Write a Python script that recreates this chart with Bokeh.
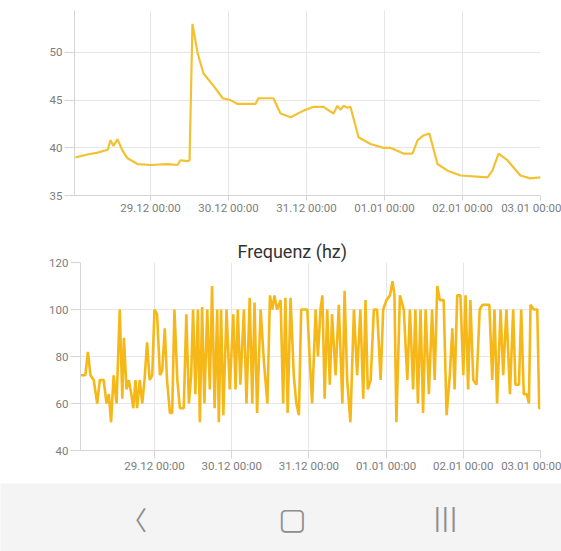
import pandas as pd
from bokeh.plotting import figure
from bokeh.models import FixedTicker, DatetimeTickFormatter, Range1d, ColumnDataSource
from bokeh.embed import file_html
from bokeh.resources import INLINE
from bokeh.core.properties import value

# ---------------- data ----------------
BASE = "2020-12-29 00:00"   # hours below are counted from this moment

temp_hours = [-23.1, -19.4, -16.3, -13.2, -12.3, -11.4, -10.2, -8.6, -7.1, -4.0,
              0.0, 5.2, 8.3, 9.2, 11.4, 12.0, 12.9, 14.5, 16.3, 19.4,
              20.9, 22.2, 24.6, 26.8, 32.3, 33.2, 37.8, 40.0, 43.1, 47.1,
              50.2, 53.2, 56.3, 57.5, 58.5, 59.4, 60.6, 61.5, 64.0, 67.7,
              71.7, 73.8, 77.8, 80.6, 82.2, 84.0, 85.8, 88.3, 91.4, 95.4,
              103.7, 105.2, 107.1, 109.8, 113.8, 116.9, 120.0]
temp_values = [39.0, 39.3, 39.5, 39.8, 40.8, 40.2, 40.9, 39.7, 38.9, 38.3,
               38.2, 38.3, 38.2, 38.7, 38.6, 38.7, 53.0, 49.9, 47.8, 46.5,
               45.8, 45.2, 45.0, 44.6, 44.6, 45.2, 45.2, 43.6, 43.2, 43.9,
               44.3, 44.3, 43.6, 44.4, 44.0, 44.4, 44.2, 44.3, 41.1, 40.4,
               40.0, 40.0, 39.4, 39.4, 40.8, 41.3, 41.5, 38.3, 37.6, 37.1,
               36.9, 37.6, 39.4, 38.7, 37.1, 36.8, 36.9]

freq_hours = [-23.0, -21.5, -20.7, -19.9, -18.9, -17.8, -17.0, -15.8, -14.9, -14.2,
              -13.5, -12.7, -11.8, -10.8, -10.0, -9.5, -8.7, -8.0, -7.2, -6.6,
              -5.9, -5.4, -4.6, -3.8, -3.1, -2.3, -1.5, -0.7, 0.0, 0.8,
              1.7, 2.4, 3.2, 3.9, 4.8, 5.5, 6.2, 7.1, 7.9, 9.1,
              9.9, 10.7, 11.4, 12.0, 12.7, 13.5, 14.1, 14.8, 15.5, 16.4,
              17.2, 17.9, 18.7, 19.5, 20.0, 20.7, 21.4, 22.4, 23.4, 24.5,
              25.2, 25.9, 26.7, 27.8, 28.6, 29.6, 30.4, 31.1, 31.9, 33.0,
              34.0, 35.1, 35.9, 36.6, 37.3, 38.1, 39.2,
              40.0, 40.7, 41.4, 42.3, 43.3, 44.1, 44.9, 45.6, 46.6, 47.5,
              48.3, 49.0, 50.1, 50.8, 51.6, 52.2, 52.9, 53.7, 54.5, 55.2,
              56.3, 57.3, 58.4, 59.1, 59.9, 60.9, 62.0, 63.0, 64.0, 64.9,
              65.6, 66.3, 67.2, 68.2, 69.2, 70.3, 71.1, 72.1, 73.2, 74.0,
              74.6, 75.2, 76.3, 77.5, 78.6, 79.4, 80.4, 81.1, 81.9, 82.7,
              83.5, 84.3, 85.3, 86.3, 87.1, 87.9, 88.7, 89.9, 90.8, 91.8,
              92.6, 93.3, 94.1, 95.1, 96.0, 96.7, 97.5, 98.2, 99.1, 100.1,
              101.1, 102.0, 103.0, 104.1, 105.0, 105.7, 106.5, 107.6, 108.4, 109.4,
              110.5, 111.5, 112.2, 113.3, 114.0, 114.8, 115.7, 116.4, 116.9, 117.9,
              119.0, 119.6, 120.0]
freq_values = [72, 72, 82, 72, 70, 60, 70, 70, 60, 64,
               52, 72, 60, 100, 62, 88, 66, 70, 64, 58,
               70, 58, 70, 60, 70, 86, 70, 72, 100, 98,
               72, 74, 92, 70, 56, 56, 100, 70, 58, 58,
               98, 60, 72, 100, 64, 100, 52, 101, 60, 100,
               66, 110, 58, 100, 52, 100, 55, 100, 66, 98,
               66, 100, 68, 100, 60, 105, 60, 103, 56, 100,
               78, 60, 106, 100, 106, 100, 104,
               60, 105, 56, 105, 72, 60, 55, 100, 100, 100,
               78, 60, 100, 80, 100, 106, 62, 100, 68, 98,
               72, 102, 60, 108, 70, 52, 100, 72, 100, 62,
               104, 66, 70, 100, 100, 70, 100, 104, 106, 112,
               106, 52, 106, 100, 70, 100, 66, 100, 60, 100,
               56, 100, 64, 100, 70, 110, 104, 104, 55, 72,
               92, 66, 106, 106, 72, 106, 66, 104, 70, 68,
               100, 102, 102, 102, 70, 100, 60, 100, 72, 100,
               64, 100, 68, 68, 100, 64, 64, 60, 102, 100,
               100, 58, 58]

tick_days = ["2020-12-29", "2020-12-30", "2020-12-31", "2021-01-01", "2021-01-02", "2021-01-03"]
temp_yticks = [35, 40, 45, 50, 55]
freq_yticks = [40, 60, 80, 100, 120]
freq_title = "Frequenz (hz)"
nav_icons = ["\u3008", "\u25a2", "|||"]
nav_fonts = ["Noto Sans CJK JP", "DejaVu Sans", "DejaVu Sans"]
nav_sizes = ["26px", "30px", "24px"]
nav_slots = [0.238, 0.52, 0.793]   # fraction of the bar's width

# ---------------- helpers ----------------
base = pd.Timestamp(BASE)
def to_time(hours):
    return [base + pd.Timedelta(hours=h) for h in hours]

def ms(ts):
    return pd.Timestamp(ts).value / 1e6

day_ticks = [ms(d) for d in tick_days]
fmt = "%d.%m %H:%M"
formatter = DatetimeTickFormatter(milliseconds=fmt, seconds=fmt, minsec=fmt, minutes=fmt,
                                  hourmin=fmt, hours=fmt, days=fmt, months=fmt, years=fmt)

FONT = "Roboto"
LABEL_C = "#7d7d7d"
GRID_C = "#e6e6e6"
AXIS_C = "#d4d4d4"
FS = "11.5px"
W = 561

def style(p, yticks, tick_out_x):
    p.outline_line_color = None
    p.xaxis.ticker = FixedTicker(ticks=day_ticks)
    p.xaxis.formatter = formatter
    p.yaxis.ticker = FixedTicker(ticks=yticks)
    p.xgrid.ticker = FixedTicker(ticks=day_ticks)
    p.ygrid.ticker = FixedTicker(ticks=yticks)
    for g in (p.xgrid, p.ygrid):
        g.grid_line_color = GRID_C
        g.grid_line_width = 1
    for ax in (p.xaxis, p.yaxis):
        ax.axis_line_color = AXIS_C
        ax.major_tick_line_color = AXIS_C
        ax.minor_tick_line_color = None
        ax.major_tick_in = 0
        ax.major_label_text_font = FONT
        ax.major_label_text_font_size = FS
        ax.major_label_text_color = LABEL_C
    p.xaxis.major_tick_out = tick_out_x
    p.xaxis.major_label_standoff = 0
    p.yaxis.major_tick_out = 10
    p.yaxis.major_label_standoff = 2

# ---------------- temperature chart ----------------
x1 = Range1d(ms(base + pd.Timedelta(hours=-23.4)), ms(base + pd.Timedelta(hours=120)))
p1 = figure(width=W, height=233, x_axis_type="datetime", x_range=x1,
            y_range=Range1d(35, 54.4), output_backend="svg", toolbar_location=None,
            min_border_left=74, min_border_right=21, min_border_top=10, min_border_bottom=38)
style(p1, temp_yticks, 5)
src1 = ColumnDataSource(dict(t=to_time(temp_hours), v=temp_values))
p1.line("t", "v", source=src1, line_color="#F2C233", line_width=2.2)

# ---------------- frequency chart ----------------
x2 = Range1d(ms(base + pd.Timedelta(hours=-23.0)), ms(base + pd.Timedelta(hours=120)))
p2 = figure(width=W, height=250, x_axis_type="datetime", x_range=x2,
            y_range=Range1d(40, 120), output_backend="svg", toolbar_location=None,
            min_border_left=80, min_border_right=21, min_border_top=29, min_border_bottom=33)
style(p2, freq_yticks, 8)
p2.title.text = freq_title
p2.title.align = "left"
p2.title.offset = 157
p2.title.standoff = 1
p2.title.text_font = FONT
p2.title.text_font_size = "18px"
p2.title.text_font_style = "normal"
p2.title.text_color = "#333333"
src2 = ColumnDataSource(dict(t=to_time(freq_hours), v=freq_values))
p2.line("t", "v", source=src2, line_color="#F6B818", line_width=2.6)

# ---------------- navigation bar ----------------
nav = figure(width=W, height=68, x_range=Range1d(0, 1), y_range=Range1d(0, 1),
             output_backend="svg", toolbar_location=None,
             x_axis_location=None, y_axis_location=None,
             min_border_left=0, min_border_right=0, min_border_top=0, min_border_bottom=0,
             background_fill_color="#f4f4f4", border_fill_color="#f4f4f4")
nav.outline_line_color = None
nav.grid.visible = False
nav_src = ColumnDataSource(dict(x=nav_slots, y=[0.49] * 3, s=nav_icons, f=nav_fonts, fs=nav_sizes))
nav.text("x", "y", text="s", source=nav_src, text_font="f",
         text_font_size="fs", text_color="#8e8e8e", text_align="center", text_baseline="middle")

open("out.html", "w").write(file_html([p1, p2, nav], INLINE))
